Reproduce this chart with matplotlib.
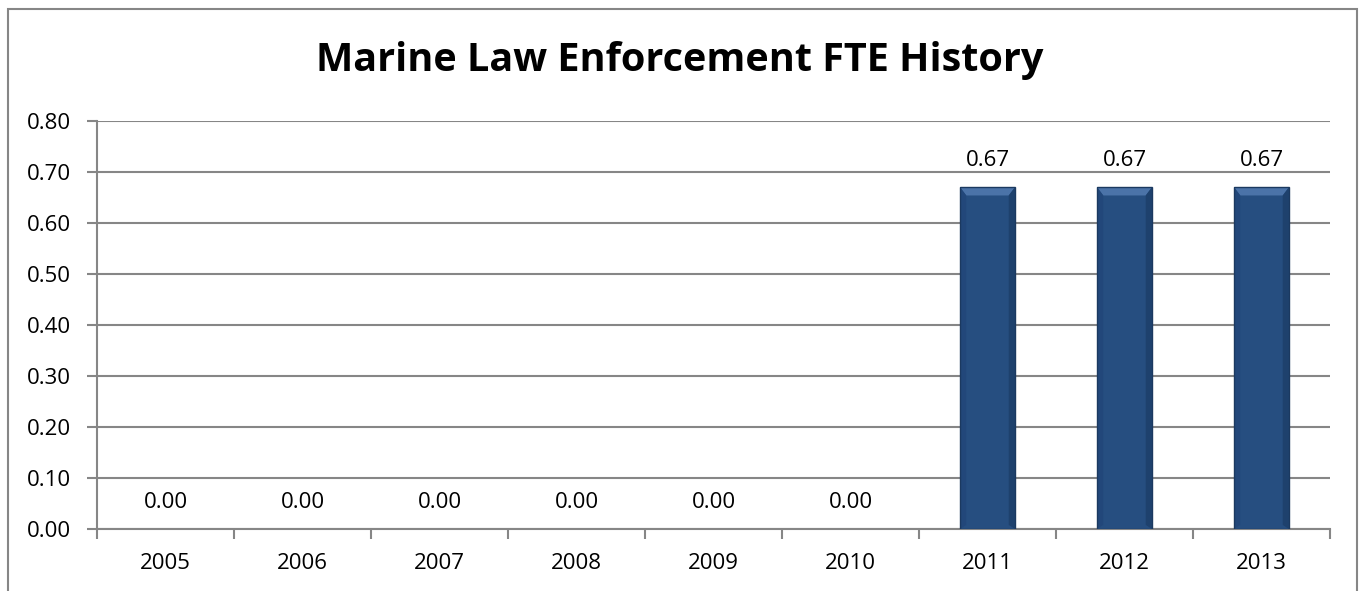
import matplotlib.pyplot as plt
from matplotlib.patches import Polygon, Rectangle
import numpy as np

years = ['2005', '2006', '2007', '2008', '2009', '2010', '2011', '2012', '2013']
fte = [0.00, 0.00, 0.00, 0.00, 0.00, 0.00, 0.67, 0.67, 0.67]
y_ticks = [0.0, 0.1, 0.2, 0.3, 0.4, 0.5, 0.6, 0.7, 0.8]

plt.rcParams['font.family'] = ['Open Sans', 'DejaVu Sans']

W, H = 1359, 591
fig = plt.figure(figsize=(W / 100, H / 100), dpi=100)
ax = fig.add_axes([97 / W, 1 - 529 / H, (1330 - 97) / W, (529 - 121) / H])

grid_col = '#868686'
bar_col = '#264e80'
fs = 16

x = np.arange(len(years))
bar_w = 0.4
bars = ax.bar(x, fte, width=bar_w, color=bar_col, linewidth=0, zorder=3)

# bevel on top of each bar plus darker sides
for b in bars:
    h = b.get_height()
    if h <= 0:
        continue
    x0 = b.get_x()
    x1 = x0 + b.get_width()
    dx = 0.045
    dy = 0.016
    ax.add_patch(Rectangle((x0, 0), x1 - x0, h, facecolor='none', edgecolor='#1b3960',
                           linewidth=1.0, zorder=5))
    ax.add_patch(Polygon([(x0, h), (x1, h), (x1 - dx, h - dy), (x0 + dx, h - dy)],
                         closed=True, facecolor='#4b73a8', edgecolor='none', zorder=4))
    ax.add_patch(Polygon([(x0, h), (x0 + dx, h - dy), (x0 + dx, 0.008), (x0, 0)],
                         closed=True, facecolor='#22477a', edgecolor='none', zorder=4))
    ax.add_patch(Polygon([(x1, h), (x1 - dx, h - dy), (x1 - dx, 0.008), (x1, 0)],
                         closed=True, facecolor='#1e416d', edgecolor='none', zorder=4))

for xi, v in zip(x, fte):
    ax.annotate(f'{v:.2f}', (xi, v), xytext=(0, 16), textcoords='offset pixels',
                ha='center', va='bottom', fontsize=fs, color='#000000')

ax.set_xlim(-0.5, len(years) - 0.5)
ax.set_ylim(0, 0.8)
ax.set_yticks(y_ticks)
ax.set_yticklabels([f'{t:.2f}' for t in y_ticks], fontsize=fs)
ax.yaxis.grid(True, color=grid_col, linewidth=1.5, zorder=0)
ax.set_axisbelow(True)

ax.set_xticks(x)
ax.set_xticklabels(years, fontsize=fs)
ax.tick_params(axis='x', length=0, pad=17)
ax.set_xticks(np.arange(-0.5, len(years) + 0.5, 1), minor=True)
ax.tick_params(axis='x', which='minor', length=7, width=1.5, color=grid_col, direction='out')
ax.tick_params(axis='y', length=7, width=1.5, color=grid_col, direction='out', pad=12)

for side in ['top', 'right']:
    ax.spines[side].set_visible(False)
for side in ['left', 'bottom']:
    ax.spines[side].set_color(grid_col)
    ax.spines[side].set_linewidth(1.5)

fig.text(0.5, 1 - 60 / H, 'Marine Law Enforcement FTE History', ha='center', va='center',
         fontsize=28.5, fontweight='bold')

# outer chart border (bottom edge lies outside the picture)
fig.patches.append(Rectangle((8 / W, -0.05), (1357 - 8) / W, 1 - 9 / H + 0.05,
                             transform=fig.transFigure, fill=False, edgecolor=grid_col,
                             linewidth=1.5))

fig.savefig('out.png', dpi=100)
